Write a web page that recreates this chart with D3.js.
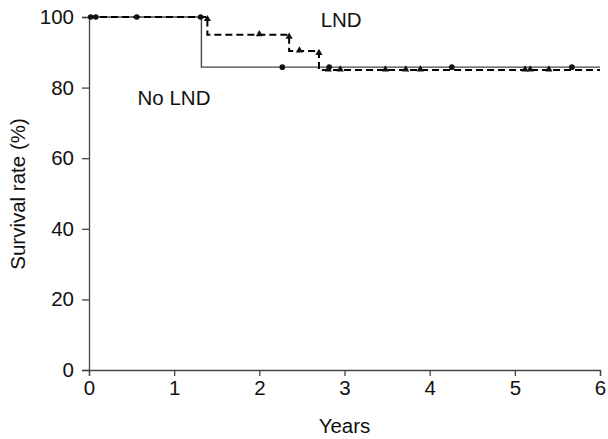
<!DOCTYPE html>
<html><head><meta charset="utf-8">
<script src="https://cdn.jsdelivr.net/npm/d3@7"></script>
<style>
body{margin:0;background:#fff;}
text{font-family:"Liberation Sans",Arial,sans-serif;}
</style></head>
<body><svg id="c" width="608" height="439"></svg>
<script>
// Data
const xTicks = [0,1,2,3,4,5,6];
const yTicks = [0,20,40,60,80,100];
// Kaplan-Meier steps: [time (years), survival (%)]
const noLndSteps = [[0,100],[1.32,85.8],[6,85.8]];
const lndSteps = [[0,100],[1.39,95],[2.35,90.4],[2.70,85],[6,85]];
// censor marks (years)
const noLndCensor = [0.02,0.08,0.56,1.31,2.27,2.82,4.26,5.67];
const lndCensor = [1.39,2.0,2.35,2.47,2.70,2.81,2.95,3.48,3.72,3.89,5.12,5.18,5.40];
const labels = [{text:"LND", x:2.72, y:97.2},{text:"No LND", x:0.57, y:75.1}];

const svg = d3.select("#c");
const x = d3.scaleLinear().domain([0,6]).range([89,600]);
const y = d3.scaleLinear().domain([0,100]).range([370,17]);

const FS = 20.5;
const axisColor = "#444";
const gx = svg.append("g").attr("transform","translate(0,370)")
  .call(d3.axisBottom(x).tickValues(xTicks).tickSize(6).tickPadding(4).tickFormat(d3.format("d")));
const gy = svg.append("g").attr("transform","translate(89,0)")
  .call(d3.axisLeft(y).tickValues(yTicks).tickSize(7).tickPadding(8).tickFormat(d3.format("d")));
[gx,gy].forEach(g=>{
  g.select(".domain").attr("stroke",axisColor).attr("stroke-width",1.3);
  g.selectAll(".tick line").attr("stroke",axisColor).attr("stroke-width",1.3);
  g.selectAll("text").attr("font-size",FS).attr("fill","#111").style("font-family","Liberation Sans, Arial, sans-serif");
});

const line = d3.line().x(d=>x(d[0])).y(d=>y(d[1])).curve(d3.curveStepAfter);

svg.append("path").datum(noLndSteps).attr("d",line)
  .attr("fill","none").attr("stroke","#444").attr("stroke-width",1.4);
svg.append("path").datum(lndSteps).attr("d",line)
  .attr("fill","none").attr("stroke","#000").attr("stroke-width",2).attr("stroke-dasharray","7,4");

// censor markers: before a drop take the upper value
function valAt(steps,t){
  let v = steps[0][1];
  for(const s of steps){ if(s[0] < t - 1e-9) v = s[1]; }
  return v;
}
svg.append("g").selectAll("circle").data(noLndCensor).join("circle")
  .attr("cx",d=>x(d)).attr("cy",d=>y(valAt(noLndSteps,d)))
  .attr("r",2.8).attr("fill","#111");
const tri = d3.symbol().type(d3.symbolTriangle).size(22);
svg.append("g").selectAll("path").data(lndCensor).join("path")
  .attr("d",tri)
  .attr("transform",d=>{
    const v = valAt(lndSteps,d);
    const isStep = lndSteps.some(s=>Math.abs(s[0]-d)<1e-9);
    const yy = isStep ? y(v) + 2 : y(v) - 0.5;
    return `translate(${x(d)},${yy})`;
  })
  .attr("fill","#111");

svg.append("g").selectAll("text").data(labels).join("text")
  .attr("x",d=>x(d.x)).attr("y",d=>y(d.y))
  .attr("font-size",FS).attr("fill","#111").text(d=>d.text);

svg.append("text").attr("x",(89+600)/2).attr("y",433).attr("text-anchor","middle")
  .attr("font-size",FS).attr("fill","#111").text("Years");
svg.append("text").attr("transform","translate(25,194) rotate(-90)").attr("text-anchor","middle")
  .attr("font-size",FS).attr("fill","#111").text("Survival rate (%)");
</script></body></html>
